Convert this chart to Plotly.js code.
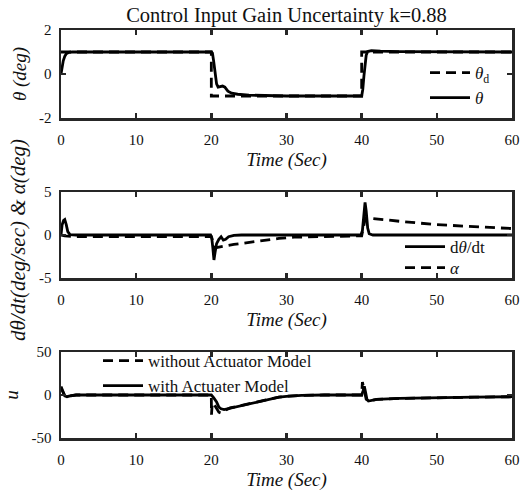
<!DOCTYPE html>
<html>
<head>
<meta charset="utf-8">
<script src="https://cdn.plot.ly/plotly-3.0.1.min.js"></script>
<style>
html,body{margin:0;padding:0;background:#fff;}
#chart{width:532px;height:496px;}
#chart svg text{font-family:"Liberation Serif","Times New Roman",serif !important;}
</style>
</head>
<body>
<div id="chart"></div>
<script>
// ---- Data ----
const chartTitle = "Control Input Gain Uncertainty k=0.88";
const xTickVals = [0, 10, 20, 30, 40, 50, 60];
const xTickText = ["0", "10", "20", "30", "40", "50", "60"];

// Panel 1: theta desired / theta
const tThetaD = [0, 20, 20, 40, 40, 60];
const thetaD  = [1, 1, -1, -1, 1, 1];
const tTheta = [0, 0.1, 0.3, 0.5, 0.7, 1.0, 1.5, 20, 20.15, 20.3, 20.5, 20.7, 20.9, 21.2, 21.5, 21.8, 22.2, 22.7, 23.5, 25, 27, 30, 40, 40.15, 40.3, 40.45, 40.6, 40.8, 41.3, 42.5, 45, 60];
const theta  = [0, 0.3, 0.6, 0.8, 0.92, 0.98, 1.0, 1.0, 0.95, 0.6, -0.1, -0.45, -0.6, -0.58, -0.55, -0.6, -0.78, -0.87, -0.92, -0.96, -0.98, -1.0, -1.0, -0.7, -0.1, 0.5, 0.85, 1.02, 1.06, 1.04, 1.02, 1.0];
const yTick1Vals = [-2, 0, 2];
const yTick1Text = ["-2", "0", "2"];

// Panel 2: dtheta/dt and alpha
const tRate = [0, 0.15, 0.35, 0.5, 0.7, 0.9, 1.2, 2, 19.9, 20.05, 20.2, 20.35, 20.5, 20.7, 21.0, 21.3, 21.6, 21.9, 22.3, 23, 24, 39.9, 40.1, 40.3, 40.45, 40.6, 40.8, 41.0, 41.5, 60];
const rate  = [0, 1.2, 1.7, 1.8, 1.2, 0.4, 0.05, 0, 0, -0.3, -1.5, -2.9, -2.0, -1.0, -0.5, -0.2, -0.6, -0.5, -0.2, -0.05, 0, 0, 0.5, 3.0, 3.8, 2.8, 0.8, 0.15, 0, 0];
const tAlpha = [0, 0.5, 2, 20, 20.5, 21, 22, 23, 25, 27, 29, 31, 35, 40, 40.5, 42, 45, 50, 55, 60];
const alpha  = [0, -0.1, -0.2, -0.2, -1.5, -1.4, -1.25, -1.1, -0.85, -0.6, -0.4, -0.25, -0.15, -0.1, 2.0, 1.85, 1.6, 1.2, 0.95, 0.75];
const yTick2Vals = [-5, 0, 5];
const yTick2Text = ["-5", "0", "5"];

// Panel 3: control input u
const tUNoAct = [0, 0.2, 0.5, 0.8, 1.2, 2, 20, 20.02, 20.1, 20.25, 20.6, 21.0, 21.3, 21.6, 22.0, 22.5, 23, 24, 25, 26, 27, 28, 29, 30, 32, 35, 40, 40.1, 40.3, 40.6, 40.9, 41.3, 42, 45, 50, 55, 60];
const uNoAct  = [10, 5, -1, -2, -1, 0, 0, -23, -12, -9, -14, -20, -21, -20, -17, -15, -14, -12, -10, -8, -6, -4, -2.5, -1.5, -0.5, 0, 0, 15, 6, -5, -7, -6, -5, -4, -3, -2.5, -2];
const tUAct = [0, 0.2, 0.5, 0.8, 1.2, 2, 20, 20.3, 20.7, 21.0, 21.3, 21.7, 22.2, 23, 24, 25, 26, 27, 28, 29, 30, 32, 35, 40, 40.2, 40.35, 40.5, 40.7, 40.9, 41.3, 42, 45, 50, 55, 60];
const uAct  = [8, 5, -1, -2, -1, 0, 0, -3, -8, -14, -16, -17, -16, -14, -12, -10, -8, -6, -4, -2.5, -1.5, -0.5, 0, 0, 5, 10, 4, -5, -7, -6, -5, -4, -3, -2.5, -2];
const yTick3Vals = [-50, 0, 50];
const yTick3Text = ["-50", "0", "50"];

// ---- Styling ----
const FONT = "Liberation Serif";
const frameColor = "#262626";
const lw = 2.8;
const dashPat = "10px,6px";

function xAxis(anchor) {
  return {
    domain: [61/532, 512/532], anchor: anchor, range: [0, 60],
    tickvals: xTickVals, ticktext: xTickText,
    ticks: "inside", ticklen: 5, tickwidth: 2.5, tickcolor: frameColor,
    showline: true, linewidth: 2.5, linecolor: frameColor, mirror: "ticks",
    showgrid: false, zeroline: false,
    tickfont: {family: FONT, size: 15, color: "#111"},
    ticklabelstandoff: 6,
    title: {text: "<i>Time (Sec)</i>", font: {family: FONT, size: 19, color: "#111"}, standoff: 6}
  };
}
function yAxis(anchor, dom, rng, tv, tt, titleText) {
  return {
    domain: dom, anchor: anchor, range: rng,
    tickvals: tv, ticktext: tt,
    ticks: "inside", ticklen: 5, tickwidth: 2.5, tickcolor: frameColor,
    showline: true, linewidth: 2.5, linecolor: frameColor, mirror: "ticks",
    showgrid: false, zeroline: false,
    tickfont: {family: FONT, size: 15, color: "#111"},
    ticklabelstandoff: 4,
    title: {text: titleText, font: {family: FONT, size: 19, color: "#111"}, standoff: 8}
  };
}

const traces = [
  {x: tThetaD, y: thetaD, xaxis: "x", yaxis: "y", mode: "lines", name: "<i>θ</i><sub>d</sub>",
   line: {color: "#000", width: lw, dash: dashPat}, legend: "legend"},
  {x: tTheta, y: theta, xaxis: "x", yaxis: "y", mode: "lines", name: "<i>θ</i>",
   line: {color: "#000", width: lw}, legend: "legend2"},
  {x: tAlpha, y: alpha, xaxis: "x2", yaxis: "y2", mode: "lines", name: "<i>α</i>",
   line: {color: "#000", width: lw, dash: dashPat}, legend: "legend4"},
  {x: tRate, y: rate, xaxis: "x2", yaxis: "y2", mode: "lines", name: "d<i>θ</i>/dt",
   line: {color: "#000", width: lw}, legend: "legend3"},
  {x: tUNoAct, y: uNoAct, xaxis: "x3", yaxis: "y3", mode: "lines", name: "without Actuator Model",
   line: {color: "#000", width: lw, dash: dashPat}, legend: "legend5"},
  {x: tUAct, y: uAct, xaxis: "x3", yaxis: "y3", mode: "lines", name: "with Actuater Model",
   line: {color: "#000", width: lw}, legend: "legend6"}
];

function leg(xpx, topPx) {
  return {
    bgcolor: "rgba(0,0,0,0)", borderwidth: 0, xanchor: "left", yanchor: "top",
    font: {family: FONT, size: 17, color: "#111"}, itemwidth: 40,
    x: xpx / 532, y: 1 - topPx / 496
  };
}

const layout = {
  width: 532, height: 496,
  margin: {l: 0, r: 0, t: 0, b: 0},
  font: {family: FONT, color: "#111"},
  paper_bgcolor: "#fff", plot_bgcolor: "#fff",
  showlegend: true,
  title: {text: chartTitle, font: {family: FONT, size: 20.5, color: "#111"}, x: 286.5/532, xanchor: "center", y: 1 - 15/496, yanchor: "middle"},
  xaxis: xAxis("y"),
  yaxis: yAxis("x", [1 - 118/496, 1 - 30/496], [-2, 2], yTick1Vals, yTick1Text, "<i>θ (deg)</i>"),
  xaxis2: xAxis("y2"),
  yaxis2: Object.assign(yAxis("x2", [1 - 278/496, 1 - 192/496], [-5, 5], yTick2Vals, yTick2Text, ""), {title: {text: ""}}),
  xaxis3: xAxis("y3"),
  yaxis3: yAxis("x3", [1 - 438/496, 1 - 352/496], [-50, 50], yTick3Vals, yTick3Text, "<i>u</i>"),
  annotations: [{
    text: "<i>dθ/dt(deg/sec) & α(deg)</i>", textangle: -90, showarrow: false,
    xref: "paper", yref: "paper", x: 18 / 532, y: 1 - 240 / 496, xanchor: "center", yanchor: "middle",
    font: {family: FONT, size: 21, color: "#111"}
  }],
  legend: leg(425, 55),
  legend2: leg(425, 80),
  legend3: leg(400, 229),
  legend4: leg(400, 250),
  legend5: leg(98, 343),
  legend6: leg(98, 368)
};

Plotly.newPlot("chart", traces, layout, {displayModeBar: false, staticPlot: true});
</script>
</body>
</html>
